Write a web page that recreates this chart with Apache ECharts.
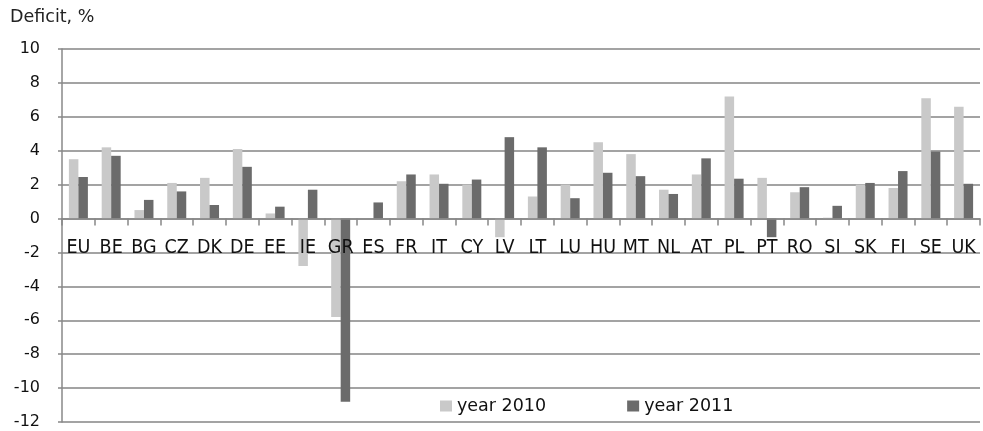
<!DOCTYPE html>
<html>
<head>
<meta charset="utf-8">
<title>Deficit, %</title>
<script src="https://cdn.jsdelivr.net/npm/echarts@6/dist/echarts.min.js"></script>
<style>
  html, body { margin: 0; padding: 0; background: #ffffff; }
  #chart { width: 983px; height: 431px; }
</style>
</head>
<body>
<div id="chart"></div>
<script>
// Budget deficit by country, % of GDP
const countries = ['EU','BE','BG','CZ','DK','DE','EE','IE','GR','ES','FR','IT','CY','LV','LT','LU','HU','MT','NL','AT','PL','PT','RO','SI','SK','FI','SE','UK'];
const year2010 = [3.5, 4.2, 0.5, 2.1, 2.4, 4.1, 0.3, -2.8, -5.8, 0, 2.2, 2.6, 2.0, -1.1, 1.3, 2.0, 4.5, 3.8, 1.7, 2.6, 7.2, 2.4, 1.55, 0.05, 2.0, 1.8, 7.1, 6.6];
const year2011 = [2.45, 3.7, 1.1, 1.6, 0.8, 3.05, 0.7, 1.7, -10.8, 0.95, 2.6, 2.05, 2.3, 4.8, 4.2, 1.2, 2.7, 2.5, 1.45, 3.55, 2.35, -1.1, 1.85, 0.75, 2.1, 2.8, 3.95, 2.05];
const seriesNames = ['year 2010', 'year 2011'];
const yTicks = { min: -12, max: 10, step: 2 };

const FONT = '"DejaVu Sans", sans-serif';
const NARROW = '"Liberation Sans Narrow", "DejaVu Sans Condensed", sans-serif';

// Plot box
const GRID = { left: 62, right: 3, top: 49, bottom: 9 };
const plotHeight = 431 - GRID.top - GRID.bottom;
// The category axis sits on the value 0 line
const zeroOffset = -plotHeight * (0 - yTicks.min) / (yTicks.max - yTicks.min);

const chart = echarts.init(document.getElementById('chart'), null, { renderer: 'canvas' });

chart.setOption({
  animation: false,
  backgroundColor: '#ffffff',
  title: {
    text: 'Deficit, %',
    left: 10,
    top: 8,
    padding: 0,
    textStyle: { fontFamily: FONT, fontSize: 17.5, fontWeight: 'normal', color: '#222' }
  },
  legend: {
    data: seriesNames,
    left: 440,
    top: 397,
    padding: 0,
    itemWidth: 12,
    itemHeight: 11,
    itemGap: 81,
    icon: 'rect',
    textStyle: { fontFamily: FONT, fontSize: 17.5, color: '#111' }
  },
  grid: Object.assign({ containLabel: false, outerBoundsMode: 'none' }, GRID),
  xAxis: {
    type: 'category',
    data: countries,
    position: 'bottom',
    offset: zeroOffset,
    z: 10,
    axisLine: { onZero: false, lineStyle: { color: '#888', width: 1.5 } },
    axisTick: { show: true, length: 7, inside: false, lineStyle: { color: '#888', width: 1.5 } },
    axisLabel: { margin: 19, fontFamily: NARROW, fontSize: 19.5, color: '#111', interval: 0, hideOverlap: false },
    splitLine: { show: false }
  },
  yAxis: {
    type: 'value',
    min: yTicks.min,
    max: yTicks.max,
    interval: yTicks.step,
    axisLine: { show: true, lineStyle: { color: '#888', width: 1.5 } },
    axisTick: { show: true, length: 4, lineStyle: { color: '#888', width: 1.5 } },
    axisLabel: { margin: 22, fontFamily: FONT, fontSize: 16, color: '#111' },
    splitLine: { show: true, lineStyle: { color: '#858585', width: 1.5 } }
  },
  series: [
    {
      name: seriesNames[0],
      type: 'bar',
      data: year2010,
      barWidth: 9.5,
      barGap: '0%',
      itemStyle: { color: '#c9c9c9' }
    },
    {
      name: seriesNames[1],
      type: 'bar',
      data: year2011,
      barWidth: 9.5,
      barGap: '0%',
      itemStyle: { color: '#6b6b6b' }
    }
  ]
});
</script>
</body>
</html>
